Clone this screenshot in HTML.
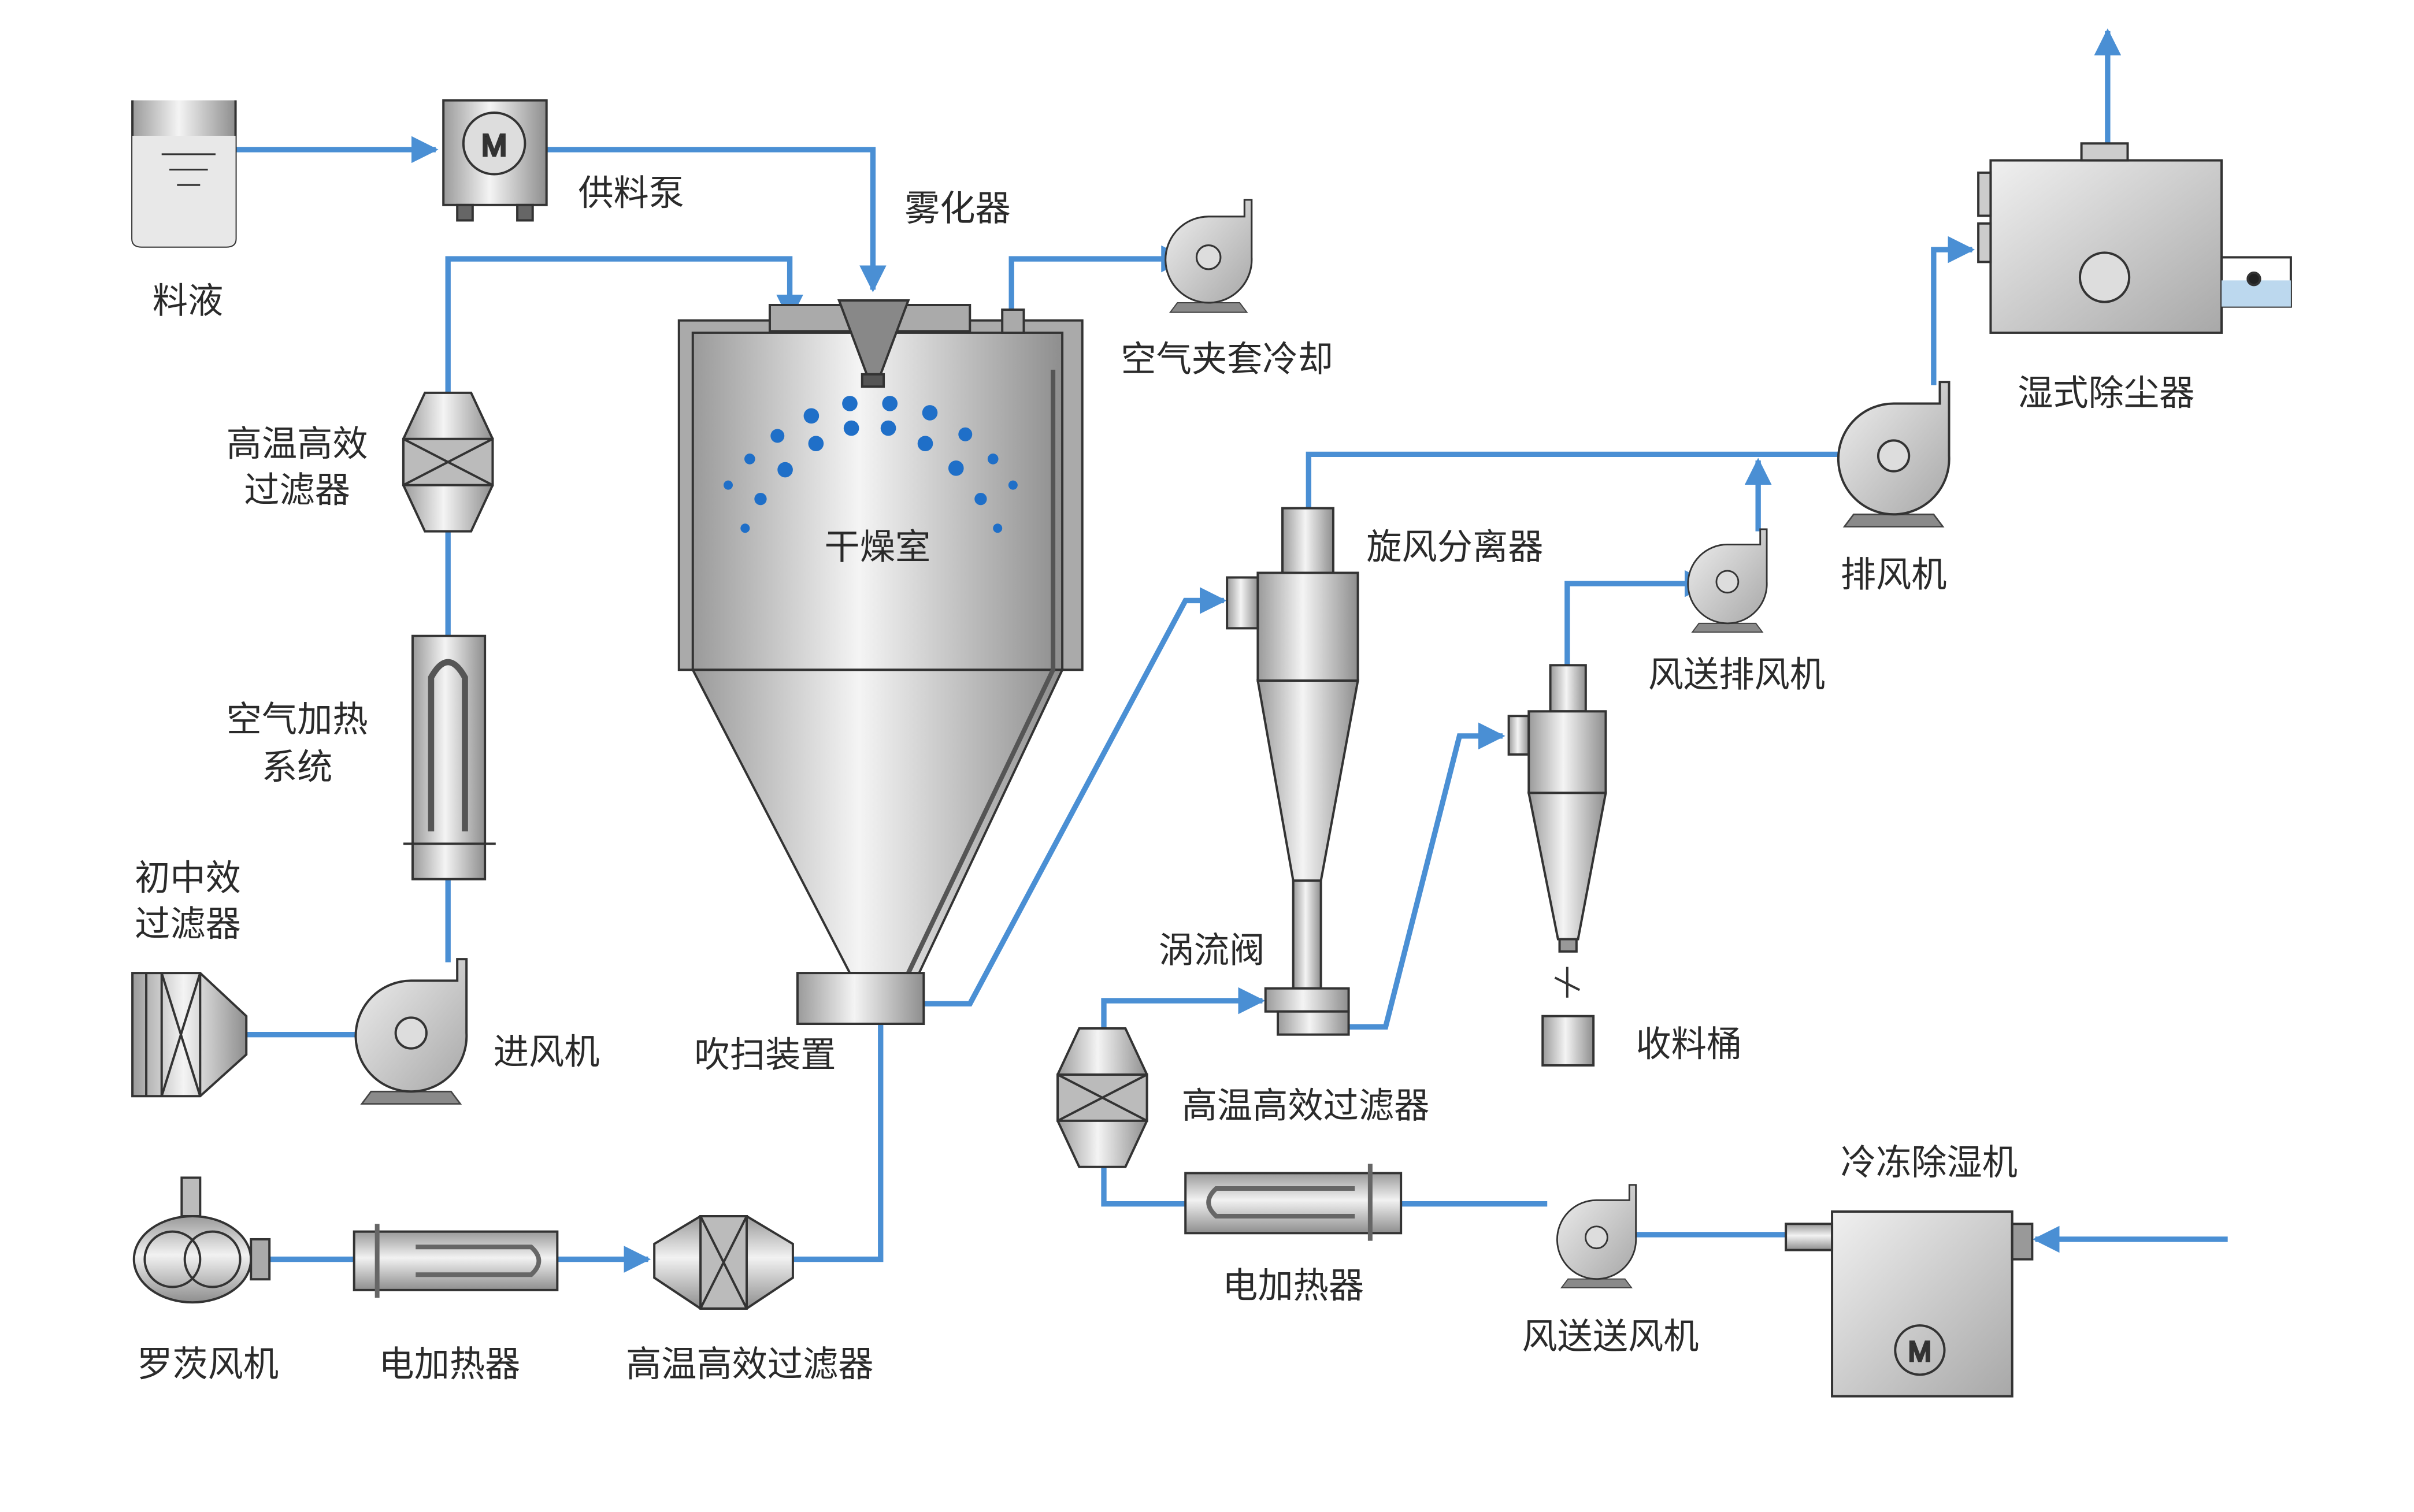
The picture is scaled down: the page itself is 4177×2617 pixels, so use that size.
<!DOCTYPE html>
<html><head><meta charset="utf-8"><style>
html,body{margin:0;padding:0;background:#fff}
svg{display:block}
text{font-family:"Liberation Sans","Noto Sans CJK SC",sans-serif;font-size:23px;fill:#2a2a2a;text-anchor:middle}
</style></head><body>
<svg width="4177" height="2617" viewBox="0 0 1568 982" xmlns="http://www.w3.org/2000/svg">
<defs>
<linearGradient id="g" x1="0" x2="1" y1="0" y2="0"><stop offset="0" stop-color="#9a9a9a"/><stop offset="0.45" stop-color="#f4f4f4"/><stop offset="1" stop-color="#8e8e8e"/></linearGradient>
<linearGradient id="gv" x1="0" x2="0" y1="0" y2="1"><stop offset="0" stop-color="#9a9a9a"/><stop offset="0.45" stop-color="#f2f2f2"/><stop offset="1" stop-color="#8e8e8e"/></linearGradient>
<linearGradient id="gd" x1="0" x2="1" y1="0" y2="1"><stop offset="0" stop-color="#f0f0f0"/><stop offset="1" stop-color="#a8a8a8"/></linearGradient>
<marker id="a" viewBox="0 0 10 10" refX="9" refY="5" markerWidth="5" markerHeight="5" orient="auto"><path d="M0,0L10,5L0,10z" fill="#4a8fd4"/></marker>
<symbol id="fan" viewBox="-45 -50 90 95" overflow="visible">
<path d="M-26,38 L26,38 L32,46 L-32,46 Z" fill="#8a8a8a" stroke="#444"/>
<path d="M0,-34 L30,-34 L30,-48 L36,-48 L36,0 A36,36 0 1 1 0,-34 Z" fill="url(#gd)" stroke="#333" stroke-width="1.5"/>
<circle r="10" fill="#ddd" stroke="#333" stroke-width="1.5"/>
</symbol>
</defs>
<g fill="none" stroke="#4a8fd4" stroke-width="3.5">
<path d="M153,97H283" marker-end="url(#a)"/>
<path d="M355,97H567V188" marker-end="url(#a)"/>
<path d="M291,255V168H513V207" marker-end="url(#a)"/>
<path d="M657,205V168H770" marker-end="url(#a)"/>
<path d="M291,345V413M291,571V625"/>
<path d="M160,672H253" marker-end="url(#a)"/>
<path d="M175,818H230M362,818H421" marker-end="url(#a)"/>
<path d="M515,818H572V665"/>
<path d="M600,652H630L770,390H795" marker-end="url(#a)"/>
<path d="M850,330V295H1213" marker-end="url(#a)"/>
<path d="M1142,345V299" marker-end="url(#a)"/>
<path d="M1256,250V162H1281" marker-end="url(#a)"/>
<path d="M1369,93V20" marker-end="url(#a)"/>
<path d="M1018,432V379H1110" marker-end="url(#a)"/>
<path d="M876,667H900L948,478H976" marker-end="url(#a)"/>
<path d="M717,668V650H820" marker-end="url(#a)"/>
<path d="M717,758V782H770M910,782H1005"/>
<path d="M1160,802H1046" marker-end="url(#a)"/>
<path d="M1447,805H1322" marker-end="url(#a)"/>
</g>
<g stroke="#333" stroke-width="1.5">
<!-- tank -->
<path d="M86,65V155Q86,160 92,160H147Q153,160 153,155V65" fill="url(#g)"/>
<path d="M86,88H153V155Q153,160 147,160H92Q86,160 86,155Z" fill="#e8e8e8" stroke="none"/>
<path d="M105,100H140M110,110H135M115,120H130" stroke-width="1.2"/>
<!-- pump -->
<rect x="288" y="65" width="67" height="68" fill="url(#g)"/>
<rect x="297" y="133" width="10" height="10" fill="#666"/><rect x="336" y="133" width="10" height="10" fill="#666"/>
<circle cx="321" cy="93" r="20" fill="#ddd"/><text x="321" y="101" style="font-size:20px">M</text>
<!-- dryer -->
<rect x="441" y="208" width="262" height="227" fill="#aaa"/>
<rect x="450" y="216" width="240" height="219" fill="url(#g)"/>
<path d="M450,435H690L597,632H552Z" fill="url(#g)"/>
<path d="M684,240V435L590,632" fill="none" stroke="#555" stroke-width="3"/>
<path d="M500,198H630V215H500Z" fill="#aaa"/>
<path d="M545,195H590L572,243H563Z" fill="#888"/>
<rect x="560" y="243" width="14" height="8" fill="#555"/>
<rect x="651" y="201" width="14" height="15" fill="#aaa"/>
<rect x="518" y="632" width="82" height="33" fill="url(#g)"/>
<!-- left filter -->
<path d="M276,255H306L320,285V315L306,345H276L262,315V285Z" fill="url(#g)"/>
<rect x="262" y="285" width="58" height="30" fill="#bbb"/><path d="M262,285L320,315M320,285L262,315"/>
<!-- heater -->
<rect x="268" y="413" width="47" height="158" fill="url(#g)"/>
<path d="M262,548H322"/><path d="M280,540V440Q291,420 302,440V540" fill="none" stroke="#555" stroke-width="4"/>
<!-- prefilter -->
<path d="M86,632H130L160,660V685L130,712H86Z" fill="url(#g)"/>
<path d="M95,632V712M105,632V712M130,632V712M105,632L130,712M130,632L105,712"/>
<!-- roots blower -->
<rect x="118" y="765" width="12" height="25" fill="#bbb"/>
<ellipse cx="125" cy="818" rx="38" ry="28" fill="url(#gv)"/>
<circle cx="112" cy="818" r="18" fill="none"/><circle cx="138" cy="818" r="18" fill="none"/>
<rect x="163" y="805" width="12" height="26" fill="#aaa"/>
<!-- bottom heater -->
<rect x="230" y="800" width="132" height="38" fill="url(#gv)"/>
<path d="M245,795V843M270,810H345Q355,819 345,828H270" fill="none" stroke="#666" stroke-width="3"/>
<!-- bottom filter -->
<path d="M425,808L455,790H485L515,808V830L485,850H455L425,830Z" fill="url(#gv)"/>
<rect x="455" y="790" width="30" height="60" fill="#bbb"/><path d="M455,790L485,850M485,790L455,850"/>
<!-- cyclone 1 -->
<rect x="833" y="330" width="33" height="42" fill="url(#g)"/>
<rect x="797" y="375" width="20" height="33" fill="url(#g)"/>
<rect x="817" y="372" width="65" height="70" fill="url(#g)"/>
<path d="M817,442H882L858,572H840Z" fill="url(#g)"/>
<rect x="840" y="572" width="18" height="70" fill="url(#g)"/>
<rect x="822" y="642" width="54" height="15" fill="url(#g)"/><rect x="830" y="657" width="46" height="15" fill="url(#g)"/>
<!-- cyclone 2 -->
<rect x="1007" y="432" width="23" height="30" fill="url(#g)"/>
<rect x="980" y="465" width="13" height="25" fill="url(#g)"/>
<rect x="993" y="462" width="50" height="53" fill="url(#g)"/>
<path d="M993,515H1043L1025,610H1012Z" fill="url(#g)"/>
<rect x="1013" y="610" width="11" height="8" fill="#999"/>
<path d="M1018,628V648M1010,635L1026,643"/>
<rect x="1002" y="660" width="33" height="32" fill="url(#g)"/>
<!-- filter 2 -->
<path d="M701,668H731L745,698V728L731,758H701L687,728V698Z" fill="url(#g)"/>
<rect x="687" y="698" width="58" height="30" fill="#bbb"/><path d="M687,698L745,728M745,698L687,728"/>
<!-- heater 2 -->
<rect x="770" y="762" width="140" height="39" fill="url(#gv)"/>
<path d="M890,756V806M880,772H790Q780,781 790,790H880" fill="none" stroke="#666" stroke-width="3"/>
<!-- dehumidifier -->
<rect x="1190" y="787" width="117" height="120" fill="url(#gd)"/>
<rect x="1160" y="795" width="30" height="17" fill="url(#gv)"/>
<rect x="1307" y="795" width="13" height="23" fill="#999"/>
<circle cx="1247" cy="877" r="16" fill="none"/><text x="1247" y="884" style="font-size:18px">M</text>
<!-- scrubber -->
<rect x="1293" y="104" width="150" height="112" fill="url(#gd)"/>
<rect x="1352" y="93" width="30" height="11" fill="#ccc"/>
<rect x="1285" y="112" width="8" height="28" fill="#ccc"/><rect x="1285" y="145" width="8" height="25" fill="#ccc"/>
<rect x="1443" y="167" width="45" height="32" fill="#fff"/><rect x="1443" y="182" width="45" height="17" fill="#bcd8ee" stroke="none"/>
<circle cx="1464" cy="181" r="4" fill="#222"/>
<circle cx="1367" cy="180" r="16" fill="#ddd"/>
</g>
<!-- fans -->
<use href="#fan" x="222" y="621" width="90" height="95"/>
<use href="#fan" x="1185" y="246" width="90" height="95"/>
<use href="#fan" x="750" y="128" width="70" height="74"/>
<use href="#fan" x="1090" y="342" width="64" height="68"/>
<use href="#fan" x="1005" y="768" width="64" height="68"/>
<!-- droplets -->
<g fill="#1f6fc8">
<circle cx="552" cy="262" r="5"/><circle cx="578" cy="262" r="5"/><circle cx="527" cy="270" r="5"/><circle cx="604" cy="268" r="5"/>
<circle cx="553" cy="278" r="5"/><circle cx="577" cy="278" r="5"/><circle cx="505" cy="283" r="4.5"/><circle cx="627" cy="282" r="4.5"/>
<circle cx="530" cy="288" r="5"/><circle cx="601" cy="288" r="5"/><circle cx="487" cy="298" r="3.5"/><circle cx="645" cy="298" r="3.5"/>
<circle cx="510" cy="305" r="5"/><circle cx="621" cy="304" r="5"/><circle cx="473" cy="315" r="3"/><circle cx="658" cy="315" r="3"/>
<circle cx="494" cy="324" r="4"/><circle cx="637" cy="324" r="4"/><circle cx="484" cy="343" r="3"/><circle cx="648" cy="343" r="3"/>
</g>
<!-- labels -->
<text x="122" y="203">料液</text>
<text x="410" y="133">供料泵</text>
<text x="622" y="143">雾化器</text>
<text x="797" y="241">空气夹套冷却</text>
<text x="193" y="296">高温高效</text><text x="193" y="326">过滤器</text>
<text x="570" y="363">干燥室</text>
<text x="193" y="475">空气加热</text><text x="193" y="506">系统</text>
<text x="122" y="578">初中效</text><text x="122" y="608">过滤器</text>
<text x="355" y="691">进风机</text>
<text x="497" y="693">吹扫装置</text>
<text x="135" y="894">罗茨风机</text>
<text x="292" y="894">电加热器</text>
<text x="487" y="894">高温高效过滤器</text>
<text x="945" y="363">旋风分离器</text>
<text x="1230" y="381">排风机</text>
<text x="1368" y="263">湿式除尘器</text>
<text x="1128" y="446">风送排风机</text>
<text x="787" y="625">涡流阀</text>
<text x="1097" y="686">收料桶</text>
<text x="848" y="726">高温高效过滤器</text>
<text x="840" y="843">电加热器</text>
<text x="1046" y="876">风送送风机</text>
<text x="1253" y="763">冷冻除湿机</text>
</svg>
</body></html>
